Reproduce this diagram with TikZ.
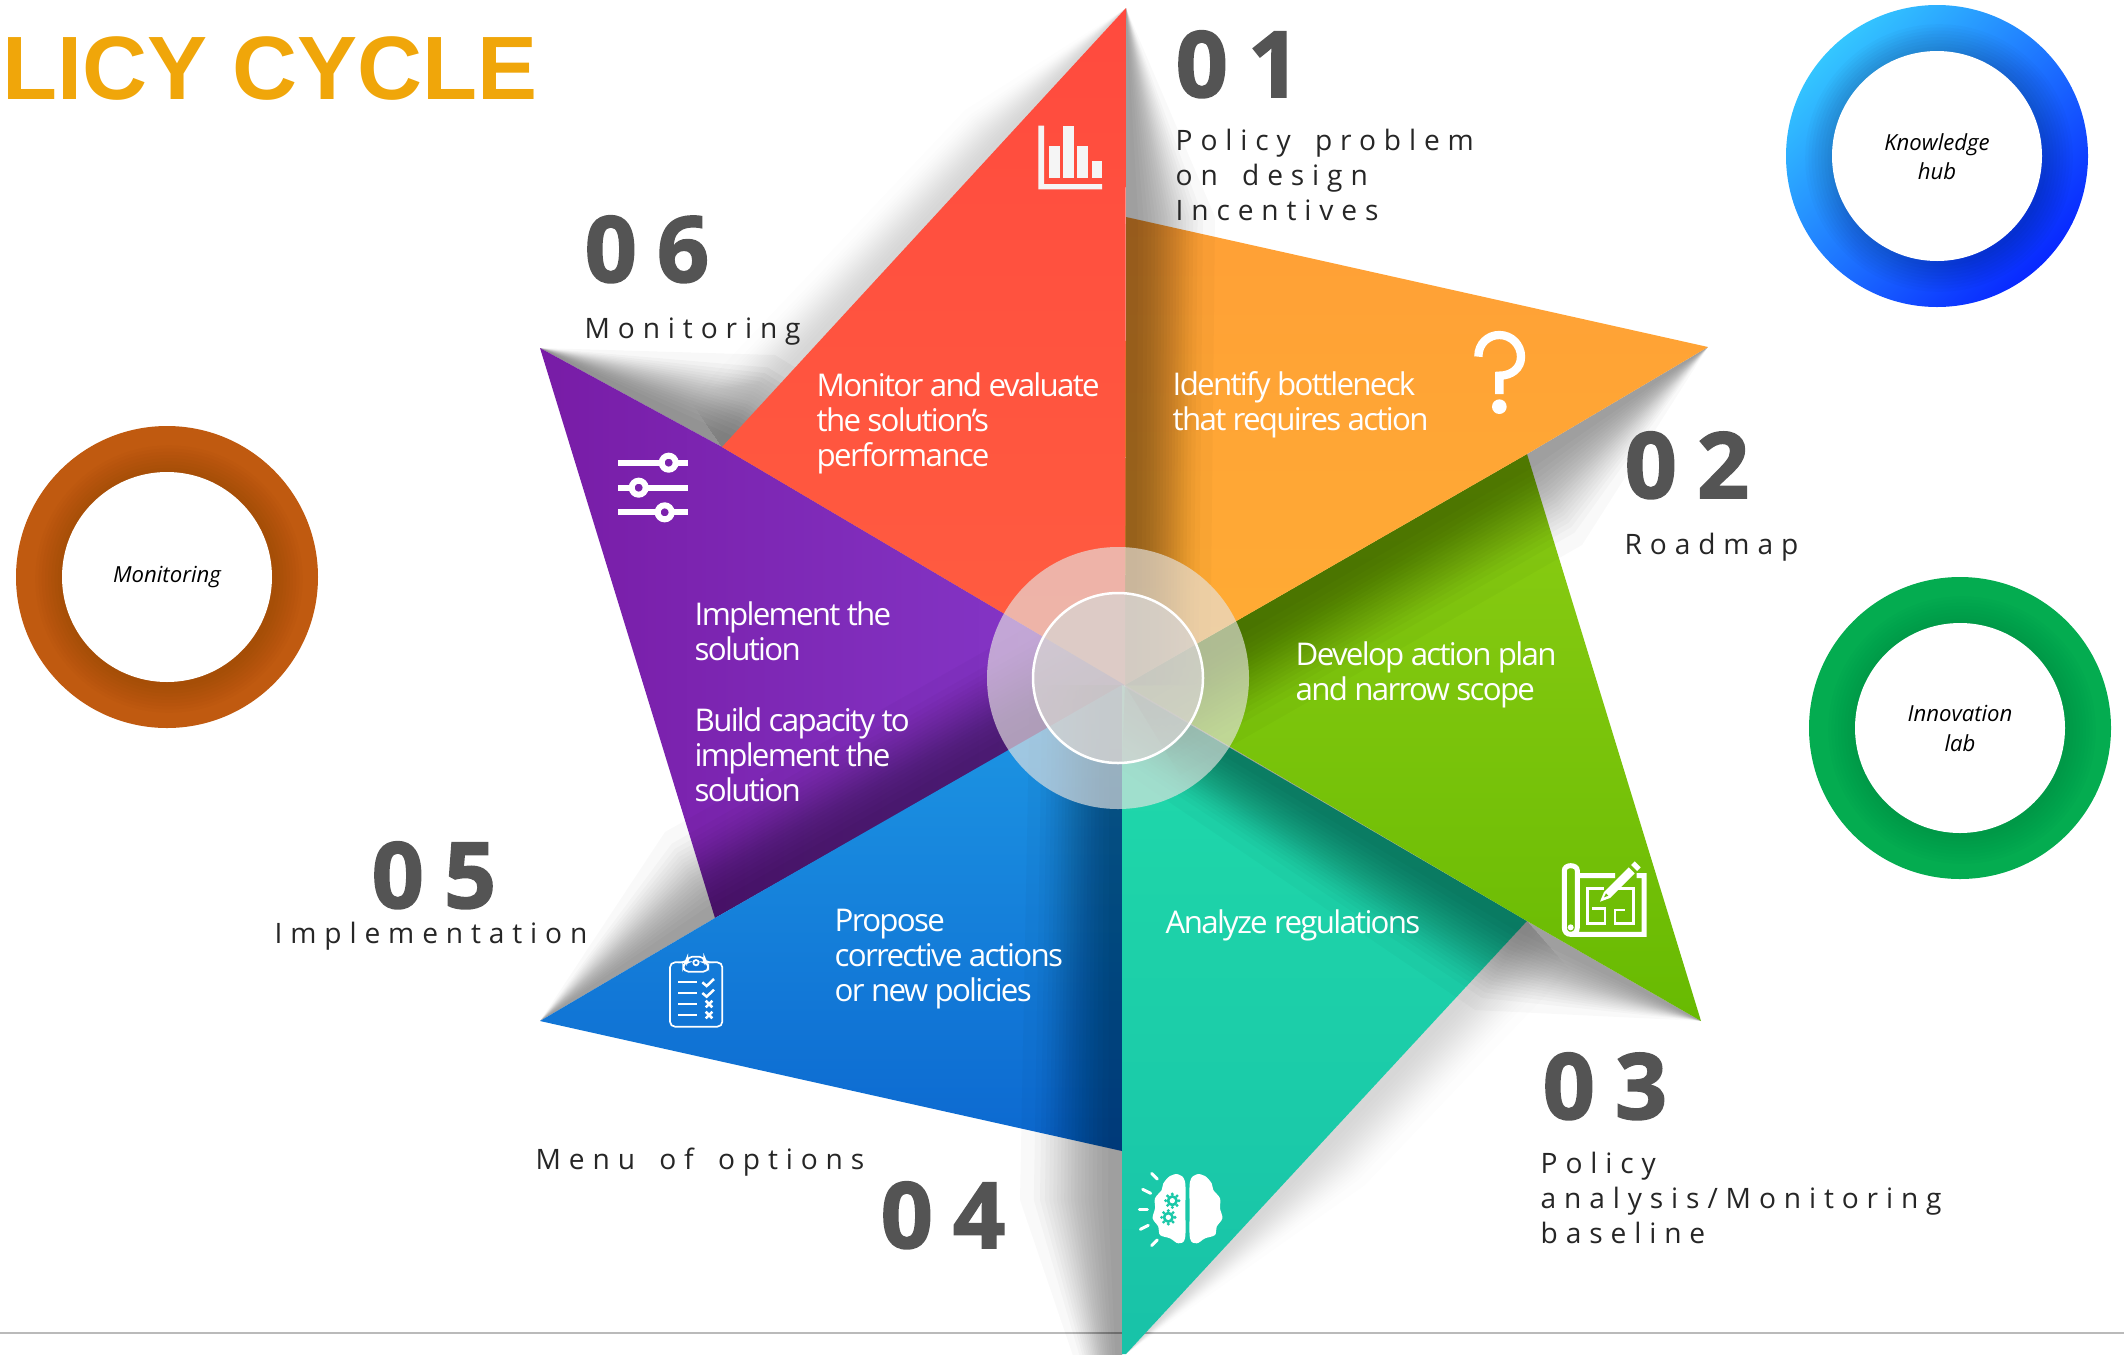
\documentclass[tikz,border=0pt]{standalone}
\usepackage{fontspec}
\usetikzlibrary{calc}
\newfontfamily\openfamily{Open Sans}
\newfontfamily\bladefamily[LetterSpace=-5.5]{Open Sans}
\newfontfamily\labelfamily[LetterSpace=28,WordSpace=1.6]{Open Sans}
\newfontfamily\numfamily[LetterSpace=22,BoldFeatures={FakeBold=1.8}]{Open Sans}
\newfontfamily\titlefamily{Liberation Sans}
\definecolor{titlecol}{RGB}{240,166,10}
\definecolor{numcol}{RGB}{84,84,84}
\definecolor{tealcol}{RGB}{26,200,168}
\definecolor{purplecol}{RGB}{124,34,172}
\definecolor{greencol}{RGB}{110,190,8}
\definecolor{bluecol}{RGB}{16,116,214}
\definecolor{hubcol}{RGB}{230,228,225}
\definecolor{corecol}{RGB}{215,212,210}
\tikzset{
  redblade/.style={top color={rgb,255:red,255;green,74;blue,62},bottom color={rgb,255:red,255;green,93;blue,64}},
  orangeblade/.style={top color={rgb,255:red,255;green,160;blue,54},bottom color={rgb,255:red,255;green,172;blue,52}},
  greenblade/.style={top color={rgb,255:red,140;green,205;blue,20},bottom color={rgb,255:red,104;green,186;blue,2}},
  tealblade/.style={top color={rgb,255:red,32;green,218;blue,170},bottom color={rgb,255:red,24;green,194;blue,168}},
  blueblade/.style={top color={rgb,255:red,30;green,152;blue,228},bottom color={rgb,255:red,12;green,104;blue,208}},
  purpleblade/.style={left color={rgb,255:red,120;green,28;blue,166},right color={rgb,255:red,134;green,58;blue,204}},
  bladetext/.style={anchor=north west,inner sep=0pt,align=left,text=white,
    font=\bladefamily\fontsize{8.9}{9.96}\selectfont},
  labeltext/.style={anchor=north west,inner sep=0pt,align=left,text=black!85,
    font=\labelfamily\fontsize{8}{9.96}\selectfont},
  numtext/.style={anchor=base west,inner sep=0pt,text=numcol,
    font=\numfamily\bfseries\fontsize{26}{28}\selectfont},
  badgetext/.style={inner sep=0pt,align=center,text=black,
    font=\openfamily\itshape\fontsize{6.3}{8.3}\selectfont},
  iconline/.style={white,line width=.6mm},
  brainray/.style={white,line width=.3mm,line cap=round},
  planwall/.style={white,line width=.27mm},
}
% soft shadow: stacked polygons that get thinner towards the tip
\newcommand{\castshadow}[6][.03]{
  \foreach \k in {1,...,20} {
    \pgfmathsetmacro{\frac}{.5-sin(asin(1-2*\k/20)/3)}
    \fill[black,opacity=#1] (#2) -- (#3) -- (#4) -- ($(#3)!\frac!(#6)$) -- ($(#2)!\frac!(#5)$) -- cycle;
  }
}
\newcommand{\ringbadge}[6]{
  \shade[top color=#3,bottom color=#4,shading angle=45] (#2) circle (151);
  \begin{scope}
    \clip (#2) circle (151);
    \foreach \k in {1,...,9}
      \fill[black,opacity=#5] ($(#2)+(2,2)$) circle ({105+\k*3.2});
  \end{scope}
  \fill[white] (#2) circle (105);
  \node[badgetext] (#1) at ($(#2)+(0,.5)$) {#6};
}
\begin{document}
\begin{tikzpicture}[x=.01cm,y=-.01cm]
\useasboundingbox (0,0) rectangle (2124,1354);

\coordinate (hub) at (1125,685);
\coordinate (hublow) at (1122,685);
\coordinate (redtip) at (1126,8);
\coordinate (redfoot) at (722,447);
\coordinate (orangetop) at (1126,217);
\coordinate (orangetip) at (1708,347);
\coordinate (orangefoot) at (1527,454);
\coordinate (greentip) at (1701,1021);
\coordinate (greenfoot) at (1527,921);
\coordinate (tealtip) at (1126,1354);
\coordinate (tealleft) at (1122,1354);
\coordinate (bluetop) at (1122,1151);
\coordinate (bluetip) at (540,1021);
\coordinate (bluefoot) at (715,918);
\coordinate (purpletip) at (540,348);

\draw[black!27,line width=.15mm] (0,1333) -- (2124,1333);

% blades, each one shades the next
\castshadow[.026]{hub}{redfoot}{purpletip}{1175,600}{775,355}
\shade[purpleblade] (hub) -- (bluefoot) -- (purpletip) -- (redfoot) -- cycle;
\castshadow[.022]{hub}{bluefoot}{bluetip}{1075,600}{665,832}
\shade[blueblade] (hublow) -- (bluetop) -- (bluetip) -- (bluefoot) -- cycle;
\castshadow[.022]{hublow}{1122,1200}{1122,1500}{1030,685}{1020,1200}
\castshadow[.008]{greenfoot}{1320,1144}{tealtip}{1570,970}{1365,1185}
\shade[tealblade] (hublow) -- (greenfoot) -- (tealtip) -- (tealleft) -- cycle;
\castshadow[.024]{hub}{greenfoot}{greentip}{1122,770}{1475,1010}
\shade[greenblade] (hub) -- (orangefoot) -- (greentip) -- (greenfoot) -- cycle;
\castshadow[.024]{hub}{orangefoot}{orangetip}{1180,775}{1582,545}
\shade[orangeblade] (hub) -- (orangetop) -- (orangetip) -- (orangefoot) -- cycle;
\castshadow[.025]{hub}{1126,217}{redtip}{1210,685}{1215,217}
\castshadow[.008]{redfoot}{1000,147}{redtip}{690,400}{965,110}
\shade[redblade] (hub) -- (redtip) -- (redfoot) -- cycle;

% centre disc
\fill[hubcol,opacity=.65] (1118,678) circle (131);
\draw[white,line width=.25mm,fill=corecol,fill opacity=.72] (1118,678) circle (85);

\node[anchor=base west,inner sep=0pt,text=titlecol,font=\titlefamily\bfseries\fontsize{25.6}{28}\selectfont] (cycletitle) at (2,99) {LICY CYCLE};

\node[numtext] (num1) at (1175,97) {01};
\node[numtext] (num2) at (1624,498) {02};
\node[numtext] (num3) at (1542,1119) {03};
\node[numtext] (num4) at (880,1248) {04};
\node[numtext] (num5) at (371,908) {05};
\node[numtext] (num6) at (584,282) {06};

\node[labeltext] (label1) at (1175,125) {\strut Policy problem\\\strut on design\\\strut Incentives};
\node[labeltext] (label2) at (1624,529) {\strut Roadmap};
\node[labeltext] (label3) at (1540,1148) {\strut Policy\\\strut analysis/Monitoring\\\strut baseline};
\node[labeltext] (label4) at (535,1144) {\strut Menu of options};
\node[labeltext,anchor=base west] (label5) at (274,943) {Implementation};
\node[labeltext] (label6) at (584,313) {\strut Monitoring};

\node[bladetext] (text6) at (816,371) {\strut Monitor and evaluate\\\strut the solution’s\\\strut performance};
\node[bladetext] (text1) at (1172,370) {\strut Identify bottleneck\\\strut that requires action};
\node[bladetext] (text2) at (1295,640) {\strut Develop action plan\\\strut and narrow scope};
\node[bladetext] (text3) at (1165,908) {\strut Analyze regulations};
\node[bladetext] (text4) at (834,906) {\strut Propose\\\strut corrective actions\\\strut or new policies};
\node[bladetext] (text5a) at (694,600) {\strut Implement the\\\strut solution};
\node[bladetext] (text5b) at (694,706) {\strut Build capacity to\\\strut implement the\\\strut solution};

\ringbadge{knowledge}{1937,156}{{rgb,255:red,52;green,198;blue,255}}{{rgb,255:red,8;green,40;blue,255}}{.018}{Knowledge\\hub}
\ringbadge{monitoring}{167,577}{{rgb,255:red,192;green,90;blue,16}}{{rgb,255:red,192;green,90;blue,16}}{.012}{Monitoring}
\ringbadge{innovation}{1960,728}{{rgb,255:red,4;green,172;blue,80}}{{rgb,255:red,4;green,172;blue,80}}{.01}{Innovation\\lab}

% icons
\begin{scope}[shift={(980,90)},scale=1/3,black!4]
  \fill (175,107) -- (192,107) -- (192,282) -- (366,282) -- (366,298) -- (175,298) -- cycle;
  \fill (208,167) rectangle (240,264);
  \fill (250,107) rectangle (282,264);
  \fill (292,167) rectangle (324,264);
  \fill (335,214) rectangle (366,264);
\end{scope}

\begin{scope}[shift={(1440,310)},scale=1/3]
  \draw[white,line width=.83mm] (115,140) .. controls (115,100) and (145,75) .. (178,75)
    .. controls (215,75) and (243,105) .. (243,140) .. controls (243,175) and (215,197) .. (178,197) -- (178,252);
  \fill[white] (178,290) circle (22);
\end{scope}

\begin{scope}[shift={(580,420)},scale=1/3]
  \draw[iconline] (115,128) -- (325,128);
  \draw[iconline] (115,203) -- (325,203);
  \draw[iconline] (115,277) -- (325,277);
  \draw[iconline,fill=purplecol] (266,128) circle (21);
  \draw[iconline,fill=purplecol] (176,203) circle (21);
  \draw[iconline,fill=purplecol] (254,277) circle (21);
\end{scope}

\begin{scope}[shift={(640,930)},scale=1/3]
  \draw[white,line width=.17mm,rounded corners=.5mm] (130,97) -- (90,97) -- (90,290) -- (247,290) -- (247,97) -- (205,97);
  \draw[white,line width=.17mm,rounded corners=.5mm,fill=bluecol] (130,125) -- (130,97) -- (142,97) -- (142,80) -- (193,80) -- (193,97) -- (205,97) -- (205,125) -- cycle;
  \draw[white,line width=.17mm] (168,98) circle (8);
  \foreach \y in {156,188,221,254}
    \draw[white,line width=.17mm] (115,\y) -- (170,\y);
  \draw[white,line width=.25mm] (187,157) -- (200,168) -- (222,147);
  \draw[white,line width=.25mm] (187,189) -- (200,200) -- (222,179);
  \draw[white,line width=.25mm] (197,212) -- (217,232) (217,212) -- (197,232);
  \draw[white,line width=.25mm] (197,245) -- (217,265) (217,245) -- (197,265);
\end{scope}

\begin{scope}[shift={(1000,1050)},scale=1/3]
  \draw[brainray] (455,370) -- (472,387);
  \draw[brainray] (428,418) -- (452,430);
  \draw[brainray] (418,477) -- (442,477);
  \draw[brainray] (421,538) -- (445,526);
  \draw[brainray] (455,587) -- (472,570);
  \fill[white] plot[smooth cycle,tension=.55] coordinates {(555,395) (535,373) (510,378) (490,400) (485,420) (465,445) (465,475) (458,505) (475,530) (480,555) (510,565) (535,580) (555,565) (556,480)};
  \fill[white] plot[smooth cycle,tension=.55] coordinates {(570,395) (590,373) (615,378) (635,400) (640,420) (660,445) (660,475) (667,505) (650,530) (645,555) (615,565) (590,580) (570,565) (569,480)};
  \foreach \cx/\cy in {517/452,505/502} {
    \fill[tealcol] (\cx,\cy) circle (17);
    \foreach \a in {0,45,...,315}
      \fill[tealcol] ($(\cx,\cy)+(\a:20)$) circle (5);
    \fill[white] (\cx,\cy) circle (8);
  }
\end{scope}

\begin{scope}[shift={(1530,840)},scale=1/3]
  \draw[white,line width=.5mm] (255,107) -- (142,107) (320,107) -- (342,107) -- (342,283) -- (122,283)
    .. controls (110,283) and (103,275) .. (103,262) -- (103,92) .. controls (103,82) and (112,77) .. (122,77)
    .. controls (132,77) and (142,82) .. (142,92) -- (142,262) .. controls (142,275) and (132,283) .. (122,283);
  \fill[white] (122,262) circle (9);
  \draw[planwall] (222,145) -- (172,145) -- (172,250) -- (225,250) -- (225,205) -- (185,205);
  \draw[planwall] (258,145) -- (310,145) -- (310,250) -- (255,250) -- (255,210) -- (285,210);
  \fill[white] (210,185) -- (222,156) -- (296,82) -- (314,100) -- (240,174) -- cycle;
  \fill[white] (303,75) -- (314,64) -- (332,82) -- (321,93) -- cycle;
  \fill[greencol] (222,172) -- (228,160) -- (235,167) -- cycle;
\end{scope}
\end{tikzpicture}
\end{document}
